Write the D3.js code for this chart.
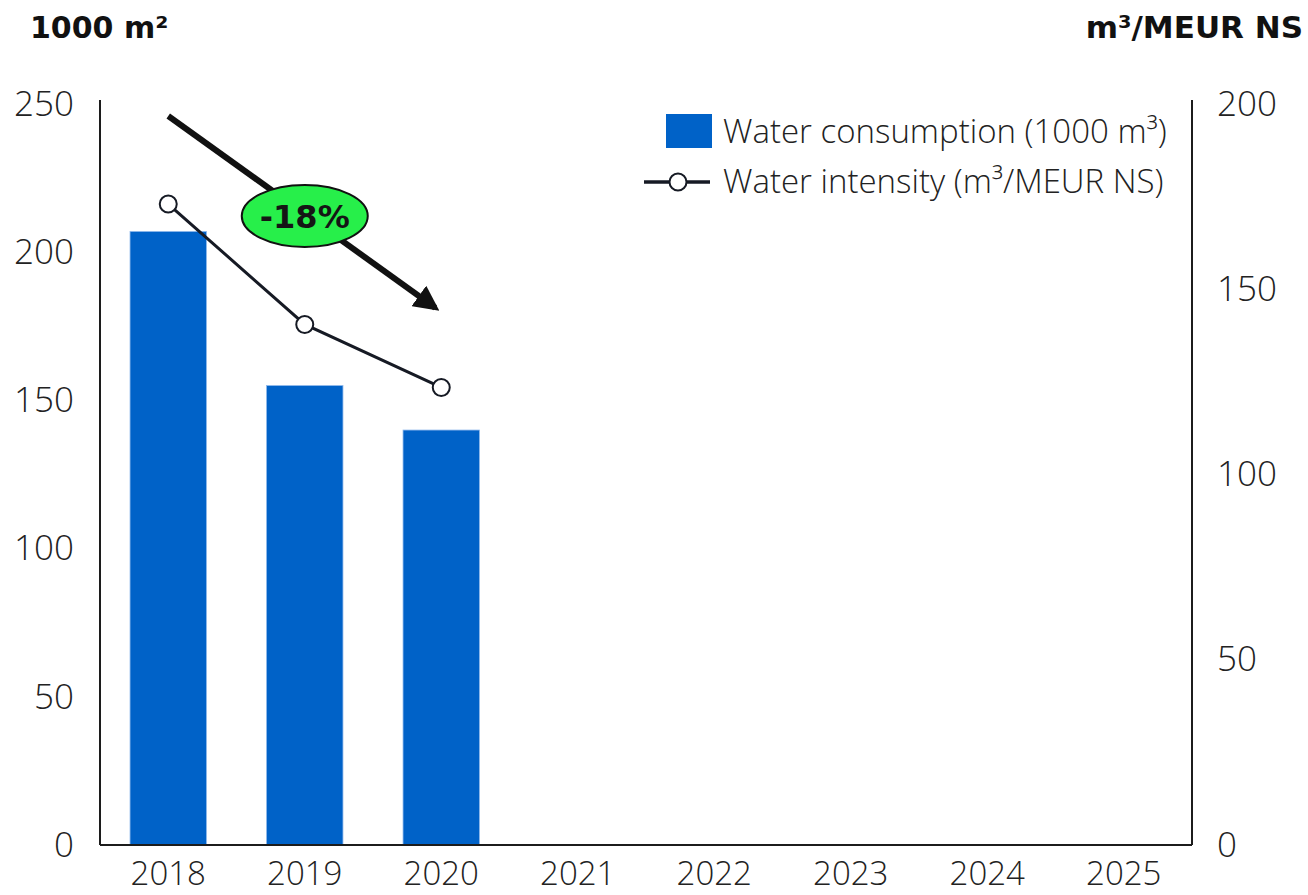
<!DOCTYPE html>
<html>
<head>
<meta charset="utf-8">
<script src="https://cdn.jsdelivr.net/npm/d3@7/dist/d3.min.js"></script>
<style>
  html, body { margin: 0; padding: 0; background: #fff; }
  svg { display: block; font-family: "Open Sans", "DejaVu Sans", sans-serif; }
</style>
</head>
<body>
<svg id="chart" width="1308" height="895"></svg>
<script>
// Water consumption and water intensity, 2018-2025
const years = ["2018", "2019", "2020", "2021", "2022", "2023", "2024", "2025"];
const consumption = [207, 155, 140, null, null, null, null, null];      // 1000 m³
const intensity = [173, 140.5, 123.5, null, null, null, null, null];    // m³/MEUR NS
const leftTicks = [0, 50, 100, 150, 200, 250];
const rightTicks = [0, 50, 100, 150, 200];
const changeLabel = "-18%";

const svg = d3.select("#chart");
const plotLeft = 100, plotRight = 1192, plotTop = 104, plotBottom = 845;

const x = d3.scaleBand().domain(years).range([plotLeft, plotRight]).paddingInner(0.44).paddingOuter(0.22);
const yL = d3.scaleLinear().domain([0, 250]).range([plotBottom, plotTop]);
const yR = d3.scaleLinear().domain([0, 200]).range([plotBottom, plotTop]);

const ink = "#1c1c1c";
const blue = "#0062c8";
const labelFont = "'Open Sans', sans-serif";
const boldFont = "'DejaVu Sans', sans-serif";

// Bars
svg.append("g").selectAll("rect")
  .data(years.map((y, i) => ({ y, v: consumption[i] })).filter(d => d.v != null))
  .join("rect")
  .attr("x", d => x(d.y))
  .attr("width", x.bandwidth())
  .attr("y", d => yL(d.v))
  .attr("height", d => plotBottom - yL(d.v))
  .attr("fill", blue)
  .attr("stroke", "#8fb8ec")
  .attr("stroke-width", 0.8);

// Axes
const axisL = d3.axisLeft(yL).tickValues(leftTicks).tickSize(0).tickPadding(26);
const gL = svg.append("g").attr("transform", `translate(${plotLeft},0)`).call(axisL);
const axisR = d3.axisRight(yR).tickValues(rightTicks).tickSize(0).tickPadding(25);
const gR = svg.append("g").attr("transform", `translate(${plotRight},0)`).call(axisR);
const axisB = d3.axisBottom(x).tickSize(0).tickPadding(16);
const gB = svg.append("g").attr("transform", `translate(0,${plotBottom})`).call(axisB);

[gL, gR, gB].forEach(g => {
  g.select(".domain").attr("stroke", ink).attr("stroke-width", 2);
  g.selectAll("text").attr("font-size", 35).attr("fill", "#222")
    .attr("font-family", labelFont).attr("font-weight", 300);
});
gL.select(".domain").attr("d", `M0,${plotTop - 4}V${plotBottom}`);
gR.select(".domain").attr("d", `M0,${plotTop - 4}V${plotBottom}`);
gB.select(".domain").attr("d", `M${plotLeft},0H${plotRight}`);
gB.selectAll("text").attr("font-size", 33).attr("dy", "0.72em");

// Intensity line
const pts = years.map((y, i) => ({ y, v: intensity[i] })).filter(d => d.v != null);
const line = d3.line().x(d => x(d.y) + x.bandwidth() / 2).y(d => yR(d.v));
svg.append("path").datum(pts).attr("d", line)
  .attr("fill", "none").attr("stroke", "#161a24").attr("stroke-width", 3);
svg.append("g").selectAll("circle").data(pts).join("circle")
  .attr("cx", d => x(d.y) + x.bandwidth() / 2)
  .attr("cy", d => yR(d.v))
  .attr("r", 8.5)
  .attr("fill", "#fff").attr("stroke", "#161a24").attr("stroke-width", 2);

// Trend arrow with change badge
const defs = svg.append("defs");
defs.append("marker").attr("id", "head")
  .attr("viewBox", "0 0 10 10").attr("refX", 8).attr("refY", 5)
  .attr("markerWidth", 4.2).attr("markerHeight", 4.2).attr("orient", "auto")
  .append("path").attr("d", "M0,0L10,5L0,10Z").attr("fill", "#111");
const ax0 = x("2018") + x.bandwidth() / 2, ay0 = 116;
const ax1 = x("2020") + x.bandwidth() / 2, ay1 = 312;
svg.append("line")
  .attr("x1", ax0).attr("y1", ay0).attr("x2", ax1 - 6).attr("y2", ay1 - 4.3)
  .attr("stroke", "#111").attr("stroke-width", 6)
  .attr("marker-end", "url(#head)");
const bx = x("2019") + x.bandwidth() / 2, by = 216;
svg.append("ellipse").attr("cx", bx).attr("cy", by).attr("rx", 63).attr("ry", 31)
  .attr("fill", "#27ef4a").attr("stroke", "#111").attr("stroke-width", 2);
svg.append("text").attr("x", bx).attr("y", by + 12).attr("text-anchor", "middle")
  .attr("font-size", 32).attr("font-weight", 700).attr("fill", "#151515")
  .attr("font-family", boldFont)
  .text(changeLabel);

// Axis titles
svg.append("text").attr("x", 30).attr("y", 38).attr("font-size", 30).attr("font-weight", 700)
  .attr("font-family", boldFont).attr("fill", "#111").text("1000 m²");
svg.append("text").attr("x", 1303).attr("y", 38).attr("text-anchor", "end").attr("font-size", 31)
  .attr("font-weight", 700).attr("font-family", boldFont).attr("fill", "#111").text("m³/MEUR NS");

// Legend
const lg = svg.append("g").attr("font-size", 33).attr("fill", "#222")
  .attr("font-family", labelFont).attr("font-weight", 300);
lg.append("rect").attr("x", 666).attr("y", 114).attr("width", 46).attr("height", 34).attr("fill", blue);
lg.append("text").attr("x", 723).attr("y", 143).text("Water consumption (1000 m³)");
lg.append("line").attr("x1", 644).attr("x2", 710).attr("y1", 182).attr("y2", 182)
  .attr("stroke", "#161a24").attr("stroke-width", 3.5);
lg.append("circle").attr("cx", 678).attr("cy", 182).attr("r", 8.5)
  .attr("fill", "#fff").attr("stroke", "#161a24").attr("stroke-width", 2);
lg.append("text").attr("x", 723).attr("y", 193).text("Water intensity (m³/MEUR NS)");
</script>
</body>
</html>
